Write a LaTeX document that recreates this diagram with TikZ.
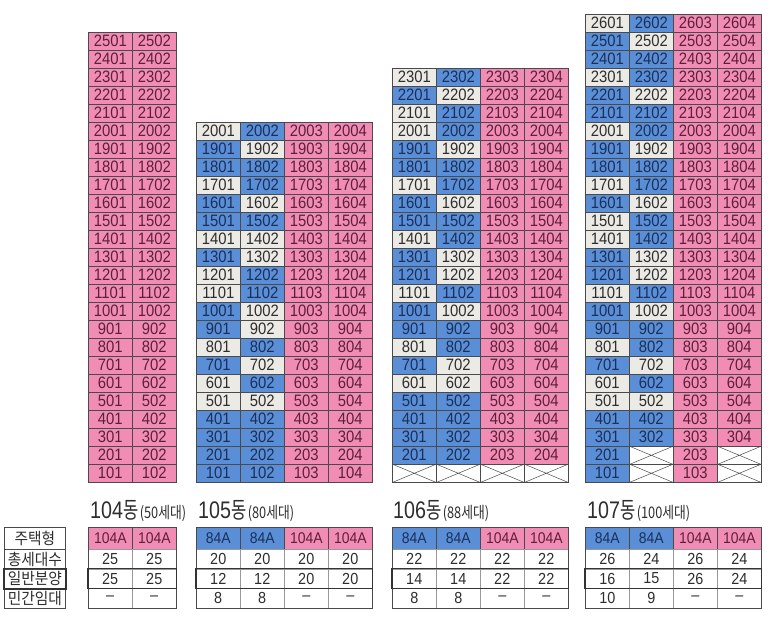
\documentclass[tikz,border=0pt]{standalone}
\usepackage{fontspec}
\setmainfont{Liberation Sans}
\newfontfamily\kr{Noto Sans CJK KR}[FakeStretch=0.92]
\newfontfamily\krl{Noto Sans CJK KR}[FakeStretch=0.72]
\newfontfamily\krs{Noto Sans CJK KR}[FakeStretch=0.8]
\newfontfamily\numc{Liberation Sans}[FakeStretch=0.82]
\newfontfamily\cellf{Liberation Sans}[FakeStretch=0.9]
\definecolor{colP}{HTML}{F18DB4}
\definecolor{colB}{HTML}{5A8ED7}
\definecolor{colG}{HTML}{ECEAE5}
\definecolor{txtP}{HTML}{5E2038}
\definecolor{txtB}{HTML}{1A3058}
\definecolor{txtG}{HTML}{2E2E2E}
\definecolor{lineC}{HTML}{4A4A4A}
\tikzset{
 unit/.style={rectangle, draw=lineC, line width=0.6pt, minimum width=44pt, minimum height=18pt, inner sep=0pt, anchor=north west, font=\cellf\fontsize{16.5}{16.5}\selectfont},
 xunit/.style={unit, fill=white},
 thead/.style={rectangle, draw=lineC, line width=0.6pt, minimum width=44pt, minimum height=22pt, inner sep=0pt, anchor=north west, font=\cellf\fontsize{15.5}{15.5}\selectfont},
 tdata/.style={rectangle, draw=gray!80, line width=0.5pt, minimum width=44pt, minimum height=19.5pt, inner sep=0pt, anchor=north west, font=\cellf\fontsize{16}{16}\selectfont, text=txtG},
 rhead/.style={rectangle, draw=lineC, line width=0.7pt, minimum width=61pt, minimum height=19.5pt, inner sep=0pt, anchor=north west, font=\kr\fontsize{16}{16}\selectfont, text=txtG},
 thickbox/.style={draw=black!80, line width=1.6pt},
 outerbox/.style={draw=lineC, line width=0.8pt},
 cross/.style={draw=lineC, line width=0.5pt},
 blabel/.style={anchor=base west, inner sep=0pt, text=txtG}
}
\newcommand\ucell[5]{\node[unit, fill=col#4, text=txt#4] (#1) at (#2,#3) {#5};}
\newcommand\xcell[3]{\node[xunit] (#1) at (#2,#3) {};
  \draw[cross] (#1.north west) -- (#1.south east) (#1.north east) -- (#1.south west);}
\newcommand\fourcol[3]{%
  \foreach \f/\a/\b in {#3} {
    \pgfmathtruncatemacro\ty{482-18*\f}
    \pgfmathtruncatemacro\na{100*\f+1}
    \pgfmathtruncatemacro\nb{100*\f+2}
    \pgfmathtruncatemacro\nc{100*\f+3}
    \pgfmathtruncatemacro\nd{100*\f+4}
    \ucell{#1-\f-1}{#2}{\ty}{\a}{\na}
    \ucell{#1-\f-2}{#2+44}{\ty}{\b}{\nb}
    \ucell{#1-\f-3}{#2+88}{\ty}{P}{\nc}
    \ucell{#1-\f-4}{#2+132}{\ty}{P}{\nd}
  }}
\newcommand\btable[2]{%
 \foreach \i/\t/\h/\p/\q/\r in {#2} {
   \node[thead, fill=col\t, text=txt\t] (#1-\i-1) at ({\xL+44*\i},527) {\h};
   \node[tdata] (#1-\i-2) at ({\xL+44*\i},549) {\p};
   \node[tdata] (#1-\i-3) at ({\xL+44*\i},568.5) {\q};
   \node[tdata] (#1-\i-4) at ({\xL+44*\i},588) {\r};
 }}
\newcommand\blab[2]{{\numc\fontsize{24}{24}\selectfont #1}{\krl\fontsize{23}{23}\selectfont 동}\hspace{1.5pt}{\krs\fontsize{16}{16}\selectfont (#2세대)}}
\begin{document}
\begin{tikzpicture}[x=1pt,y=-1pt]
\useasboundingbox (0,0) rectangle (773,620);
\fill[white] (0,0) rectangle (773,620);

% 104
\foreach \f in {1,...,25} {
  \pgfmathtruncatemacro\ty{482-18*\f}
  \pgfmathtruncatemacro\na{100*\f+1}
  \pgfmathtruncatemacro\nb{100*\f+2}
  \ucell{u104-\f-1}{88}{\ty}{P}{\na}
  \ucell{u104-\f-2}{132}{\ty}{P}{\nb}
}

% 105
\fourcol{u105}{196}{20/G/B,19/B/G,18/B/B,17/G/B,16/B/G,15/B/B,14/G/G,13/B/G,12/G/B,11/G/B,10/B/G,9/B/G,8/G/B,7/B/G,6/G/B,5/G/G,4/B/B,3/B/B,2/B/B,1/B/B}

% 106
\fourcol{u106}{392}{23/G/B,22/B/G,21/G/B,20/G/B,19/B/G,18/B/B,17/G/B,16/B/G,15/B/B,14/G/B,13/B/G,12/B/G,11/G/B,10/B/G,9/B/B,8/G/B,7/B/G,6/G/G,5/B/B,4/B/B,3/B/B,2/B/B}
\xcell{u106-1-1}{392}{464}
\xcell{u106-1-2}{436}{464}
\xcell{u106-1-3}{480}{464}
\xcell{u106-1-4}{524}{464}

% 107
\fourcol{u107}{585}{26/G/B,25/B/G,24/B/B,23/G/B,22/B/G,21/B/B,20/G/B,19/B/G,18/B/B,17/G/B,16/B/G,15/G/B,14/G/B,13/B/G,12/B/G,11/G/B,10/B/G,9/B/B,8/G/B,7/B/G,6/G/B,5/G/G,4/B/B,3/B/B}
\ucell{u107-2-1}{585}{446}{B}{201}
\xcell{u107-2-2}{629}{446}
\ucell{u107-2-3}{673}{446}{P}{203}
\xcell{u107-2-4}{717}{446}
\ucell{u107-1-1}{585}{464}{B}{101}
\xcell{u107-1-2}{629}{464}
\ucell{u107-1-3}{673}{464}{P}{103}
\xcell{u107-1-4}{717}{464}

% labels
\node[blabel] (l104) at (90,518) {\blab{104}{50}};
\node[blabel] (l105) at (198,518) {\blab{105}{80}};
\node[blabel] (l106) at (393,518) {\blab{106}{88}};
\node[blabel] (l107) at (587,518) {\blab{107}{100}};

% row headers
\node[rhead, minimum height=22pt] (rh1) at (4,527) {주택형};
\node[rhead] (rh2) at (4,549) {총세대수};
\node[rhead] (rh3) at (4,568.5) {일반분양};
\node[rhead] (rh4) at (4,588) {민간임대};
\draw[thickbox] (rh3.north west) rectangle (rh3.south east);

% tables
\def\xL{88}
\btable{t104}{0/P/104A/25/25/–,1/P/104A/25/25/–}
\def\xL{196}
\btable{t105}{0/B/84A/20/12/8,1/B/84A/20/12/8,2/P/104A/20/20/–,3/P/104A/20/20/–}
\def\xL{392}
\btable{t106}{0/B/84A/22/14/8,1/B/84A/22/14/8,2/P/104A/22/22/–,3/P/104A/22/22/–}
\def\xL{585}
\btable{t107}{0/B/84A/26/16/10,1/B/84A/24/15/9,2/P/104A/26/26/–,3/P/104A/24/24/–}

\draw[outerbox] (t104-0-1.north west) rectangle (t104-1-4.south east);
\draw[outerbox] (t105-0-1.north west) rectangle (t105-3-4.south east);
\draw[outerbox] (t106-0-1.north west) rectangle (t106-3-4.south east);
\draw[outerbox] (t107-0-1.north west) rectangle (t107-3-4.south east);
\draw[thickbox] (t104-0-3.north west) rectangle (t104-1-3.south east);
\draw[thickbox] (t105-0-3.north west) rectangle (t105-3-3.south east);
\draw[thickbox] (t106-0-3.north west) rectangle (t106-3-3.south east);
\draw[thickbox] (t107-0-3.north west) rectangle (t107-3-3.south east);
\end{tikzpicture}
\end{document}
